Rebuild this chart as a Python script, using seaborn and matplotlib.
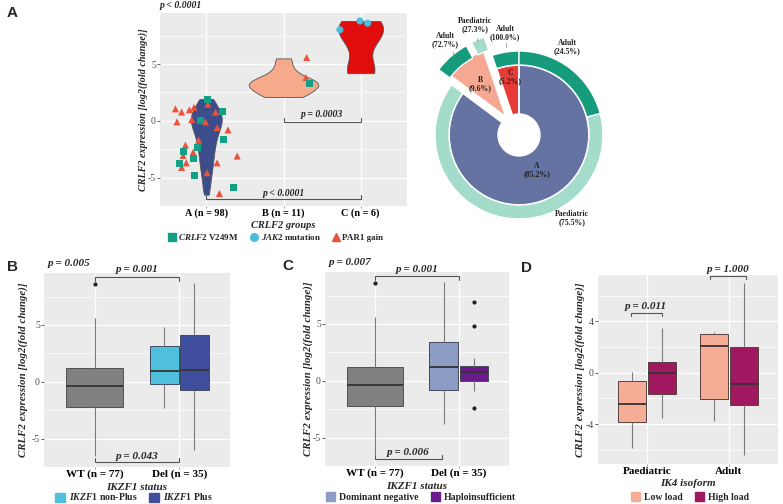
import numpy as np
import pandas as pd
import matplotlib
matplotlib.use("Agg")
import matplotlib.pyplot as plt
import seaborn as sns
from matplotlib.patches import Patch, Circle
from matplotlib.lines import Line2D

# ------------------------------------------------------------------ data
# Panel A: violin groups
groups_A = ["A (n = 98)", "B (n = 11)", "C (n = 6)"]
expr_A = [1.92, 1.7, 1.5, 1.3, 1.1, 0.95, 0.8, 0.65, 0.5, 0.4, 0.3, 0.2, 0.1, 0.0,
          -0.1, -0.25, -0.4, -0.55, -0.7, -0.9, -1.1, -1.3, -1.5, -1.75, -2.0,
          -2.25, -2.5, -2.8, -3.1, -3.4, -3.7, -4.0, -4.4, -4.8, -5.3, -5.9, -6.5]
expr_B = [2.1, 2.3, 2.6, 2.9, 3.1, 3.3, 3.4, 3.6, 3.9, 4.6, 5.5]
expr_C = [4.2, 4.6, 7.0, 7.8, 8.5, 8.8]

# Panel A: mutation overlay points (group index, jitter, value, type)
mut_group = [0] * 21 + [0] * 10 + [1, 1, 1] + [2, 2, 2]
mut_jitter = [-0.40, -0.32, -0.38, -0.22, -0.16, -0.19, 0.02, -0.01, 0.12, 0.14,
              0.28, -0.10, -0.27, -0.17, -0.30, -0.26, -0.32, 0.14, 0.40, 0.01, 0.17,
              0.02, 0.21, -0.07, 0.22, -0.12, -0.29, -0.17, -0.35, -0.15, 0.35,
              0.30, 0.29, 0.34,
              -0.27, -0.01, 0.09]
mut_value = [1.06, 0.78, -0.09, 0.97, 1.18, 0.11, 1.47, -0.09, 0.78, -0.60,
             -0.80, -1.70, -2.13, -2.76, -3.05, -3.70, -4.10, -3.70, -3.10, -4.57, -6.40,
             1.92, 0.84, 0.03, -1.61, -2.33, -2.67, -3.33, -3.76, -4.80, -5.86,
             5.58, 3.82, 3.25,
             8.02, 8.80, 8.60]
mut_type = (["PAR1 gain"] * 21 + ["CRLF2 V249M"] * 10 +
            ["PAR1 gain", "PAR1 gain", "CRLF2 V249M"] + ["JAK2 mutation"] * 3)
mut_types = ["CRLF2 V249M", "JAK2 mutation", "PAR1 gain"]
mut_labels = [r"$\mathit{CRLF2}$ V249M", r"$\mathit{JAK2}$ mutation", "PAR1 gain"]

# Panel A: donut
pie_groups = ["A", "B", "C"]
pie_pct = [85.2, 9.6, 5.2]
ring_paed_pct = [75.5, 27.3, 0.0]
ring_adult_pct = [24.5, 72.7, 100.0]

# Panel B
status_labels = ["WT (n = 77)", "Del (n = 35)"]
expr_wt = [-6.5, -4.6, -3.1, -2.2, -1.6, -0.9, -0.4, 0.1, 0.7, 1.25, 2.9, 5.6, 8.6]
sub_B = ["IKZF1 non-Plus", "IKZF1 Plus"]
expr_nonplus = [-2.35, -1.0, -0.17, 0.5, 0.98, 2.0, 3.16, 4.0, 4.84]
expr_plus = [-5.97, -2.8, -0.75, 0.2, 1.07, 2.6, 4.09, 6.2, 8.67]

# Panel C
sub_C = ["Dominant negative", "Haploinsufficient"]
expr_domneg = [-3.77, -2.0, -0.78, 0.3, 1.22, 2.3, 3.39, 5.8, 8.7]
expr_haplo = [-2.4, -0.87, -0.4, -0.06, 0.3, 0.55, 0.78, 0.95, 1.1, 1.3, 1.97, 4.78, 6.9]

# Panel D
age_labels = ["Paediatric", "Adult"]
load_labels = ["Low load", "High load"]
expr_paed_low = [-5.86, -4.6, -3.8, -3.1, -2.4, -1.5, -0.65, -0.3, 0.05]
expr_paed_high = [-3.56, -2.5, -1.68, -0.8, -0.05, 0.4, 0.82, 2.0, 3.48]
expr_adult_low = [-3.74, -2.9, -2.07, 0.5, 2.06, 2.6, 3.02, 3.1, 3.17]
expr_adult_high = [-6.4, -4.0, -2.48, -1.7, -0.9, 0.5, 2.01, 4.5, 6.97]

# ------------------------------------------------------------------ style
sns.set_theme(style="darkgrid")
plt.rcParams["font.family"] = ["Liberation Serif", "DejaVu Serif"]
plt.rcParams["axes.unicode_minus"] = False
plt.rcParams["mathtext.fontset"] = "custom"
plt.rcParams["mathtext.rm"] = "Liberation Serif:bold"
plt.rcParams["mathtext.it"] = "Liberation Serif:italic:bold"
plt.rcParams["mathtext.bf"] = "Liberation Serif:bold"

W, H = 783, 504
fig = plt.figure(figsize=(W / 100, H / 100), dpi=100)


def rect(x0, y0, x1, y1):
    return [x0 / W, 1 - y1 / H, (x1 - x0) / W, (y1 - y0) / H]


def style_ax(ax, ylim, yticks, yminor, xlim, xticklabels, xlabel, tfs, lfs):
    ax.set_facecolor("#ebebeb")
    ax.set_xlim(xlim)
    ax.set_ylim(ylim)
    ax.set_yticks(yticks)
    ax.set_yticklabels([str(t) for t in yticks])
    ax.set_yticks(yminor, minor=True)
    ax.set_xticks(range(len(xticklabels)))
    ax.set_xticklabels(xticklabels, fontsize=tfs, fontweight="bold", color="black")
    ax.grid(True, which="major", color="white", lw=1.0)
    ax.grid(True, which="minor", axis="y", color="white", lw=0.5)
    ax.set_axisbelow(True)
    for s in ax.spines.values():
        s.set_visible(False)
    ax.tick_params(axis="both", which="major", length=2, width=0.6, color="#444",
                   pad=1, left=True, bottom=True)
    ax.tick_params(axis="x", length=1.2, pad=0.6, color="#888")
    ax.tick_params(axis="y", labelsize=7, labelcolor="#4d4d4d")
    ax.tick_params(which="minor", length=0)
    ax.set_xlabel(xlabel, fontsize=lfs, fontstyle="italic", fontweight="bold")
    ax.set_ylabel("CRLF2 expression [log2(fold change)]", fontsize=lfs - 0.2,
                  fontstyle="italic", fontweight="bold")


def bracket(ax, x1, x2, y, tick, text, ty, fs):
    ax.plot([x1, x1, x2, x2], [y + tick, y, y, y + tick], color="#555555", lw=0.8,
            clip_on=False)
    ax.text((x1 + x2) / 2, ty, text, ha="center", va="center", fontsize=fs,
            fontstyle="italic", fontweight="bold", clip_on=False)


BOX_KW = dict(saturation=1, linewidth=0.7, showcaps=False, fliersize=2,
              flierprops=dict(marker="o", markerfacecolor="#222", markeredgecolor="#222"),
              whiskerprops=dict(color="#7a7a7a", linewidth=0.8),
              medianprops=dict(color="#333333", linewidth=1.3))
LEG_KW = dict(loc="center", ncol=2, frameon=False,
              prop=dict(family="Liberation Serif", weight="bold", size=7),
              handlelength=1.0, handleheight=1.0, handletextpad=0.4, columnspacing=1.2)

# ------------------------------------------------------------------ panel A violin
axA = fig.add_axes(rect(160, 13, 407, 206))
violin_colors = ["#3c4d8c", "#f7a98c", "#e10d0d"]
violin_widths = [0.40, 0.90, 0.58]
for grp, vals, col, wd in zip(groups_A, [expr_A, expr_B, expr_C], violin_colors,
                              violin_widths):
    sns.violinplot(x=[grp] * len(vals), y=vals, order=groups_A, color=col,
                   saturation=1, cut=0, inner=None, density_norm="width", width=wd,
                   bw_adjust=0.8, linewidth=0.6, linecolor="#555555", ax=axA)
dfM = pd.DataFrame({"x": np.array(mut_group) + np.array(mut_jitter),
                    "y": mut_value, "type": mut_type})
sns.scatterplot(data=dfM, x="x", y="y", hue="type", style="type",
                hue_order=mut_types, style_order=mut_types,
                palette=["#14a085", "#4bbde0", "#e9533c"],
                markers={"CRLF2 V249M": "s", "JAK2 mutation": "o", "PAR1 gain": "^"},
                s=26, linewidth=0, legend=False, ax=axA, zorder=3)
style_ax(axA, (-7.2, 9.5), [-5, 0, 5], [-7.5, -2.5, 2.5, 7.5], (-0.6, 2.6),
         groups_A, "CRLF2 groups", 7.3, 7.5)
axA.text(0.0, 1.04, "p < 0.0001", transform=axA.transAxes, ha="left", va="center",
         fontsize=7, fontstyle="italic", fontweight="bold")
bracket(axA, 1, 2, -0.09, 0.35, "p = 0.0003", 0.6, 7)
bracket(axA, 0, 2, -6.87, 0.3, "p < 0.0001", -6.44, 7)

hA = [Line2D([], [], marker=m, color=c, linestyle="", markersize=5.5)
      for m, c in zip(["s", "o", "^"], ["#14a085", "#4bbde0", "#e9533c"])]
fig.legend(hA, mut_labels, loc="center", bbox_to_anchor=(276 / W, 1 - 237 / H), ncol=3,
           frameon=False, prop=dict(family="Liberation Serif", weight="bold", size=6.5),
           handlelength=0.8, handletextpad=0.3, columnspacing=1.3)

# ------------------------------------------------------------------ panel A donut
axP = fig.add_axes(rect(415, 0, 625, 245))
cx, cy = 519, 135
inner_vals = [pie_pct[2], pie_pct[1], pie_pct[0]]
axP.pie(inner_vals, radius=70, startangle=90, counterclock=True,
        colors=["#e63b36", "#f5a992", "#6573a3"], explode=[0, 22, 0],
        wedgeprops=dict(edgecolor="white", linewidth=1.3))
ring_vals = [pie_pct[2] * ring_adult_pct[2] / 100,
             pie_pct[1] * ring_paed_pct[1] / 100, pie_pct[1] * ring_adult_pct[1] / 100,
             pie_pct[0] * ring_paed_pct[0] / 100, pie_pct[0] * ring_adult_pct[0] / 100]
ADULT, PAED = "#169b7c", "#a4dccc"
axP.pie(ring_vals, radius=84, startangle=90, counterclock=True,
        colors=[ADULT, PAED, ADULT, PAED, ADULT], explode=[0, 20, 20, 0, 0],
        wedgeprops=dict(width=14, edgecolor="white", linewidth=1.0))
axP.add_patch(Circle((0, 0), 21, color="white", zorder=5))
axP.set_xlim(415 - cx, 625 - cx)
axP.set_ylim(cy - 245, cy - 0)
axP.set_aspect("auto")
axP.axis("off")


def ptxt(px, py, s):
    axP.text(px - cx, cy - py, s, ha="center", va="center", fontsize=5.6,
             fontweight="bold", color="#222", linespacing=1.15, zorder=6)


ptxt(567, 47, "Adult\n(24.5%)")
ptxt(572, 218, "Paediatric\n(75.5%)")
ptxt(537, 170, "A\n(85.2%)")
ptxt(480, 84, "B\n(9.6%)")
ptxt(510, 77, "C\n(5.2%)")
ptxt(445, 40, "Adult\n(72.7%)")
ptxt(475, 25, "Paediatric\n(27.3%)")
ptxt(505, 33, "Adult\n(100.0%)")
for (x0, y0, x1, y1) in [(453, 52, 454, 57), (477, 38, 477, 41), (506, 43, 506, 47)]:
    axP.plot([x0 - cx, x1 - cx], [cy - y0, cy - y1], color="#888", lw=0.5)

# ------------------------------------------------------------------ panel B
axB = fig.add_axes(rect(44, 273, 230, 467))
dfBw = pd.DataFrame({"status": status_labels[0], "expr": expr_wt})
sns.boxplot(data=dfBw, x="status", y="expr", order=status_labels, color="#808080",
            linecolor="#505050", width=0.67, ax=axB, **BOX_KW)
dfBd = pd.DataFrame({"status": status_labels[1],
                     "sub": [sub_B[0]] * len(expr_nonplus) + [sub_B[1]] * len(expr_plus),
                     "expr": expr_nonplus + expr_plus})
sns.boxplot(data=dfBd, x="status", y="expr", hue="sub", order=status_labels,
            hue_order=sub_B, palette=["#4ec0de", "#3f4f9e"], linecolor="#404a60",
            width=0.72, gap=0.05, dodge=True, legend=False, ax=axB, **BOX_KW)
style_ax(axB, (-7.3, 9.57), [-5, 0, 5], [-7.5, -2.5, 2.5, 7.5], (-0.6, 1.6),
         status_labels, "IKZF1 status", 8, 8)
axB.text(-0.3, 10.4, "p = 0.005", ha="center", va="center", fontsize=8,
         fontstyle="italic", fontweight="bold")
bracket(axB, 0, 1, 9.2, -0.3, "p = 0.001", 9.85, 8)
bracket(axB, 0, 1, -7.07, 0.32, "p = 0.043", -6.55, 8)
fig.legend([Patch(color="#4ec0de"), Patch(color="#3f4f9e")],
           [r"$\mathit{IKZF1}$ non-Plus", r"$\mathit{IKZF1}$ Plus"],
           bbox_to_anchor=(134 / W, 1 - 497 / H), **LEG_KW)

# ------------------------------------------------------------------ panel C
axC = fig.add_axes(rect(325, 272, 509, 466))
sns.boxplot(data=dfBw, x="status", y="expr", order=status_labels, color="#808080",
            linecolor="#505050", width=0.67, ax=axC, **BOX_KW)
dfCd = pd.DataFrame({"status": status_labels[1],
                     "sub": [sub_C[0]] * len(expr_domneg) + [sub_C[1]] * len(expr_haplo),
                     "expr": expr_domneg + expr_haplo})
sns.boxplot(data=dfCd, x="status", y="expr", hue="sub", order=status_labels,
            hue_order=sub_C, palette=["#8c9cc4", "#6b1b8b"], linecolor="#444a5a",
            width=0.72, gap=0.05, dodge=True, legend=False, ax=axC, **BOX_KW)
style_ax(axC, (-7.3, 9.57), [-5, 0, 5], [-7.5, -2.5, 2.5, 7.5], (-0.6, 1.6),
         status_labels, "IKZF1 status", 8, 8)
axC.text(-0.3, 10.4, "p = 0.007", ha="center", va="center", fontsize=8,
         fontstyle="italic", fontweight="bold")
bracket(axC, 0, 1, 9.19, -0.3, "p = 0.001", 9.8, 8)
bracket(axC, 0, 0.8, -6.87, 0.35, "p = 0.006", -6.35, 8)
fig.legend([Patch(color="#8c9cc4"), Patch(color="#6b1b8b")], sub_C,
           bbox_to_anchor=(421 / W, 1 - 497 / H), **LEG_KW)

# ------------------------------------------------------------------ panel D
axD = fig.add_axes(rect(598, 275, 778, 464))
dfD = pd.DataFrame({
    "age": [age_labels[0]] * (len(expr_paed_low) + len(expr_paed_high)) +
           [age_labels[1]] * (len(expr_adult_low) + len(expr_adult_high)),
    "load": [load_labels[0]] * len(expr_paed_low) + [load_labels[1]] * len(expr_paed_high) +
            [load_labels[0]] * len(expr_adult_low) + [load_labels[1]] * len(expr_adult_high),
    "expr": expr_paed_low + expr_paed_high + expr_adult_low + expr_adult_high})
sns.boxplot(data=dfD, x="age", y="expr", hue="load", order=age_labels,
            hue_order=load_labels, palette=["#f6ad95", "#a01860"], linecolor="#5a4040",
            width=0.73, gap=0.05, dodge=True, legend=False, ax=axD, **BOX_KW)
style_ax(axD, (-7.1, 7.6), [-4, 0, 4], [-6, -2, 2, 6], (-0.6, 1.6),
         age_labels, "IK4 isoform", 8, 8)
bracket(axD, -0.2, 0.18, 4.64, -0.26, "p = 0.011", 5.15, 8)
bracket(axD, 0.77, 1.21, 7.53, -0.26, "p = 1.000", 8.05, 8)
fig.legend([Patch(color="#f6ad95"), Patch(color="#a01860")], load_labels,
           bbox_to_anchor=(690 / W, 1 - 497 / H), **LEG_KW)

# ------------------------------------------------------------------ label positions
for ax, xl, yl in [(axA, -0.049, -0.078), (axB, -0.086, -0.08), (axC, -0.065, -0.08),
                   (axD, -0.072, -0.082)]:
    ax.yaxis.set_label_coords(xl, 0.5)
    ax.xaxis.set_label_coords(0.5, yl)

for s, x, y in [("A", 12, 13), ("B", 12, 267), ("C", 288, 266), ("D", 527, 268)]:
    fig.text(x / W, 1 - y / H, s, ha="center", va="center", fontsize=11,
             fontweight="bold", family="Liberation Sans")

fig.savefig("out.png", dpi=100)
